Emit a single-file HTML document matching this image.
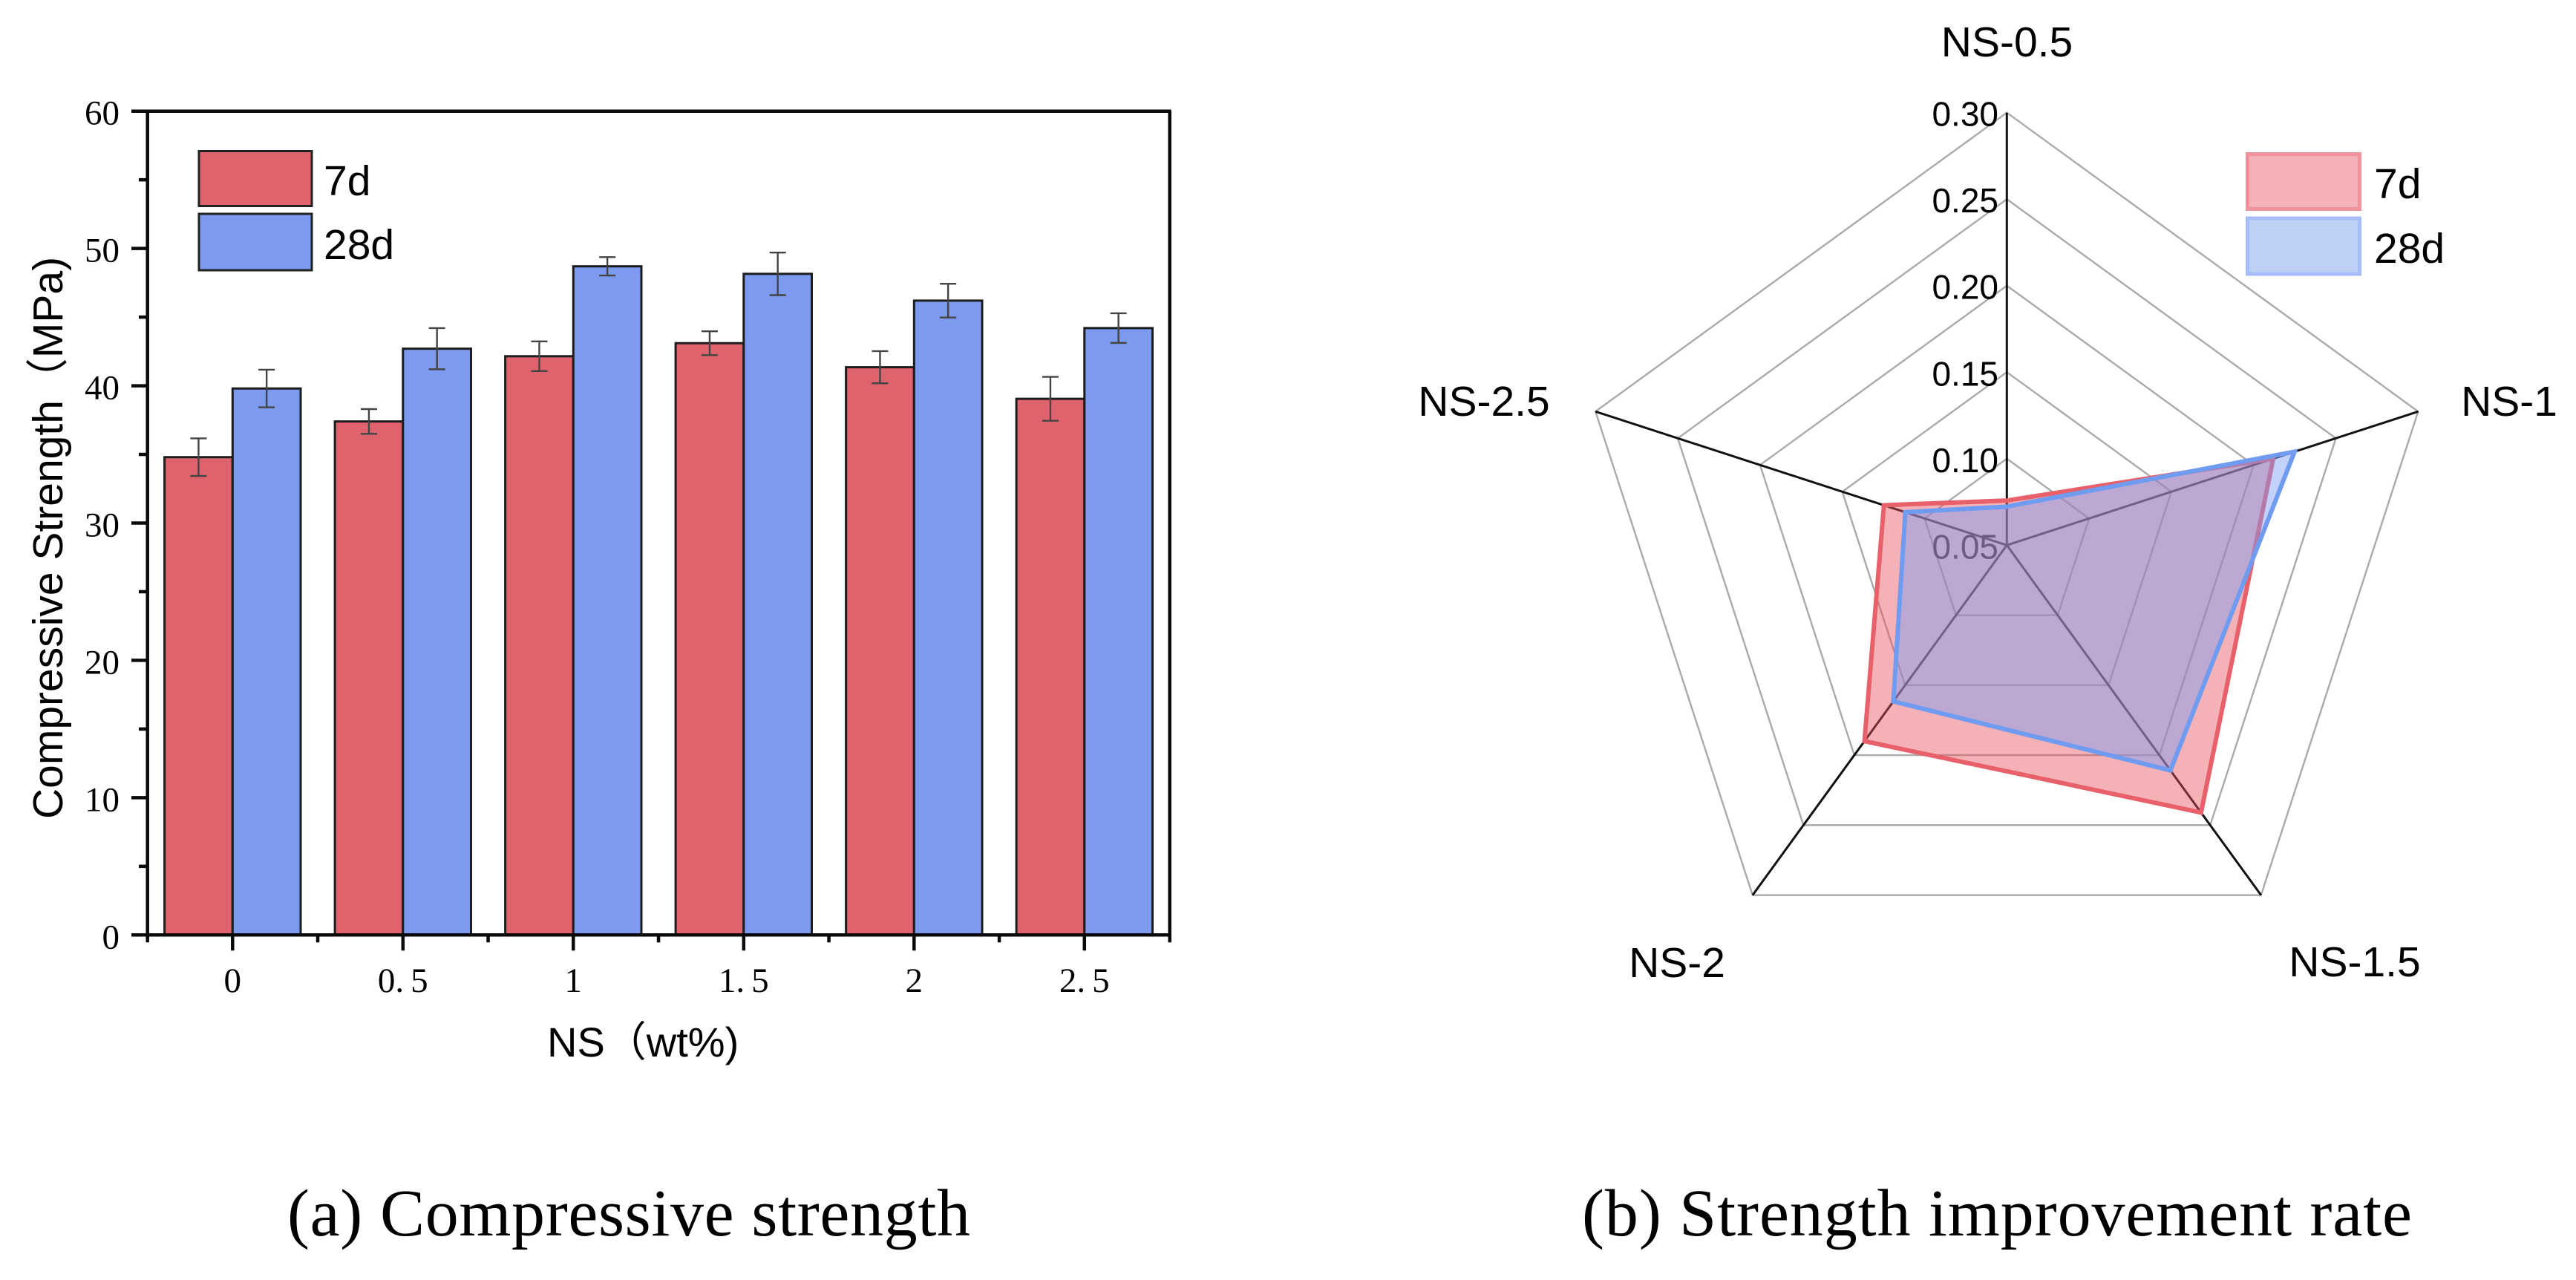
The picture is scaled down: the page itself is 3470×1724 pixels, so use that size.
<!DOCTYPE html>
<html lang="en">
<head>
<meta charset="utf-8">
<title>Compressive strength and strength improvement rate</title>
<style>
html,body{margin:0;padding:0;background:#fff;}
svg{display:block;}
.sans{font-family:"Liberation Sans","Noto Sans CJK SC",sans-serif;fill:#000;}
.serif{font-family:"Liberation Serif",serif;fill:#000;}
</style>
</head>
<body>
<svg id="fig" xmlns="http://www.w3.org/2000/svg" width="3470" height="1724" viewBox="0 0 3470 1724">
  <rect x="0" y="0" width="3470" height="1724" fill="#fff"/>

  <g id="bar-chart">
    <g id="bars"></g>
    <g id="errors"></g>
    <g id="axes-a"></g>
    <g id="ticks-a"></g>
    <g>
      <rect x="268" y="203.5" width="152" height="74" fill="#DF636D" stroke="#222" stroke-width="3"/>
      <rect x="268" y="288" width="152" height="76" fill="#7C9BEE" stroke="#222" stroke-width="3"/>
      <text class="sans" x="436" y="263" font-size="57">7d</text>
      <text class="sans" x="436" y="349" font-size="57">28d</text>
    </g>
    <text class="sans" transform="translate(84,0) rotate(-90)" x="-1103" y="0" font-size="57">Compressive Strength（MPa)</text>
    <text class="sans" x="737" y="1423" font-size="56">NS（wt%)</text>
    <text class="serif" x="387" y="1664" font-size="90" textLength="920" lengthAdjust="spacing">(a) Compressive strength</text>
  </g>

  <g id="radar-chart">
    <g id="rings"></g>
    <g id="spokes"></g>
    <g id="ticks-b"></g>
    <g id="cats"></g>
    <g id="series"></g>
    <g>
      <rect x="3027.5" y="207.5" width="151" height="74" fill="rgb(244,178,183)" stroke="rgb(240,145,155)" stroke-width="5"/>
      <rect x="3027.5" y="294" width="151" height="75" fill="rgb(191,208,245)" stroke="rgb(165,190,250)" stroke-width="5"/>
      <text class="sans" x="3198" y="267" font-size="57">7d</text>
      <text class="sans" x="3198" y="354" font-size="57">28d</text>
    </g>
    <text class="serif" x="2131" y="1664" font-size="90" textLength="1118" lengthAdjust="spacing">(b) Strength improvement rate</text>
  </g>
</svg>

<script>
// ---- Chart (a) data ----
var barCategories = ['0', '0.5', '1', '1.5', '2', '2.5'];
var strength7d = [34.8, 37.4, 42.15, 43.1, 41.35, 39.05];
var strength28d = [39.8, 42.7, 48.7, 48.15, 46.2, 44.2];
var error7d = [1.37, 0.9, 1.08, 0.87, 1.17, 1.6];
var error28d = [1.37, 1.5, 0.67, 1.55, 1.23, 1.08];
var yTickValues = [0, 10, 20, 30, 40, 50, 60];
var yMinorValues = [5, 15, 25, 35, 45, 55];

// ---- Chart (b) data ----
var radarCategories = ['NS-0.5', 'NS-1', 'NS-1.5', 'NS-2', 'NS-2.5'];
var rate7d = [0.0758, 0.2119, 0.241, 0.19, 0.1247];
var rate28d = [0.0723, 0.2249, 0.2109, 0.1616, 0.1117];
var radarTicks = ['0.05', '0.10', '0.15', '0.20', '0.25', '0.30'];

var NS = 'http://www.w3.org/2000/svg';
function node(tag, attrs, parent) {
  var el = document.createElementNS(NS, tag);
  for (var k in attrs) { el.setAttribute(k, attrs[k]); }
  parent.appendChild(el);
  return el;
}

// ---- Chart (a) axis functions ----
var plotLeft = 198.7, plotRight = 1575.7, plotTop = 149.7, plotBottom = 1259.3;
var firstCatX = 313.3, catStep = 229.5, barWidth = 91.7;
function yScale(v) { return plotBottom - (v / 60) * (plotBottom - plotTop); }
function xScale(i) { return firstCatX + i * catStep; }

var barsG = document.getElementById('bars');
var errorsG = document.getElementById('errors');
var axesG = document.getElementById('axes-a');
var ticksA = document.getElementById('ticks-a');

function drawBar(i, val, err, offset, color, label) {
  var x = xScale(i) + offset;
  var top = yScale(val);
  var bar = node('rect', {x: x, y: top, width: barWidth, height: plotBottom - top, fill: color, stroke: '#1c1c1c', 'stroke-width': 3}, barsG);
  
  
  var cx = x + barWidth / 2, hi = yScale(val + err), lo = yScale(val - err);
  var eb = node('path', {d: 'M' + (cx - 11) + ' ' + hi + 'H' + (cx + 11) + 'M' + cx + ' ' + hi + 'V' + lo + 'M' + (cx - 11) + ' ' + lo + 'H' + (cx + 11), fill: 'none', stroke: '#444', 'stroke-width': 2.4}, errorsG);
  
  
}
barCategories.forEach(function (c, i) {
  drawBar(i, strength7d[i], error7d[i], -barWidth, '#DF636D', '7d');
  drawBar(i, strength28d[i], error28d[i], 0, '#7C9BEE', '28d');
});

var frame = node('path', {d: 'M' + plotLeft + ' ' + (plotBottom + 10) + 'V' + plotTop + 'M177 ' + plotTop + 'H' + (plotRight + 2) + 'M' + plotRight + ' ' + plotTop + 'V' + (plotBottom + 10) + 'M177 ' + plotBottom + 'H' + (plotRight + 2), fill: 'none', stroke: '#0a0a0a', 'stroke-width': 4.5}, axesG);



yTickValues.forEach(function (v) {
  var y = yScale(v);
  var t = node('line', {x1: 177, x2: plotLeft, y1: y, y2: y, stroke: '#0a0a0a', 'stroke-width': 4.5}, axesG);
  
  
  var lab = node('text', {x: 161, y: y + 18, 'text-anchor': 'end', 'font-size': 47, 'class': 'serif'}, ticksA);
  lab.textContent = String(v);
  
  
});
yMinorValues.forEach(function (v) {
  var y = yScale(v);
  var t = node('line', {x1: 187, x2: plotLeft, y1: y, y2: y, stroke: '#0a0a0a', 'stroke-width': 4.5}, axesG);
  
  
});
barCategories.forEach(function (c, i) {
  var x = xScale(i);
  var t = node('line', {x1: x, x2: x, y1: plotBottom, y2: plotBottom + 21, stroke: '#0a0a0a', 'stroke-width': 4.5}, axesG);
  
  
  if (i < barCategories.length - 1) {
    var m = node('line', {x1: x + catStep / 2, x2: x + catStep / 2, y1: plotBottom, y2: plotBottom + 10, stroke: '#0a0a0a', 'stroke-width': 4.5}, axesG);
    
    
  }
  var lab = node('text', {x: x, y: 1336, 'text-anchor': 'middle', 'font-size': 47, 'class': 'serif'}, ticksA);
  var parts = c.split('.');
  if (parts.length === 2) {
    node('tspan', {}, lab).textContent = parts[0] + '.';
    node('tspan', {dx: 9}, lab).textContent = parts[1];
  } else {
    lab.textContent = c;
  }
  
  
});

// ---- Chart (b) axis functions ----
var cx = 2703.3, cy = 734.3, radarR = 582.6, radarMin = 0.05, radarMax = 0.30;
function rScale(v) { return (v - radarMin) / (radarMax - radarMin) * radarR; }
function polar(i, v) {
  var a = i * 2 * Math.PI / radarCategories.length;
  var r = rScale(v);
  return [cx + r * Math.sin(a), cy - r * Math.cos(a)];
}
function pointsFor(vals) {
  return vals.map(function (v, i) { return polar(i, v).join(','); }).join(' ');
}

var ringsG = document.getElementById('rings');
var spokesG = document.getElementById('spokes');
var ticksB = document.getElementById('ticks-b');
var catsG = document.getElementById('cats');
var seriesG = document.getElementById('series');

radarTicks.forEach(function (t) {
  var v = parseFloat(t);
  if (v > radarMin) {
    var ring = node('polygon', {points: pointsFor(radarCategories.map(function () { return v; })), fill: 'none', stroke: '#aaa', 'stroke-width': 2.4}, ringsG);
    
    
  }
  var lab = node('text', {x: 2692, y: polar(0, v)[1] + 18, 'text-anchor': 'end', 'font-size': 46, 'class': 'sans'}, ticksB);
  lab.textContent = t;
  
  
});

var catAnchors = [[2703.5, 76], [3380, 560], [3172, 1315], [2259, 1316], [1999, 560]];
radarCategories.forEach(function (c, i) {
  var p = polar(i, radarMax);
  var s = node('line', {x1: cx, y1: cy, x2: p[0], y2: p[1], stroke: '#111', 'stroke-width': 3}, spokesG);
  
  
  var lab = node('text', {x: catAnchors[i][0], y: catAnchors[i][1], 'text-anchor': 'middle', 'font-size': 57, 'class': 'sans'}, catsG);
  lab.textContent = c;
  
  
});

var poly7 = node('polygon', {points: pointsFor(rate7d), fill: 'rgb(231,84,95)', 'fill-opacity': 0.45, stroke: '#E8606A', 'stroke-width': 6, 'stroke-linejoin': 'miter'}, seriesG);


var poly28 = node('polygon', {points: pointsFor(rate28d), fill: 'rgb(120,155,245)', 'fill-opacity': 0.45, stroke: '#6F9BF0', 'stroke-width': 6, 'stroke-linejoin': 'miter'}, seriesG);


</script>
</body>
</html>
